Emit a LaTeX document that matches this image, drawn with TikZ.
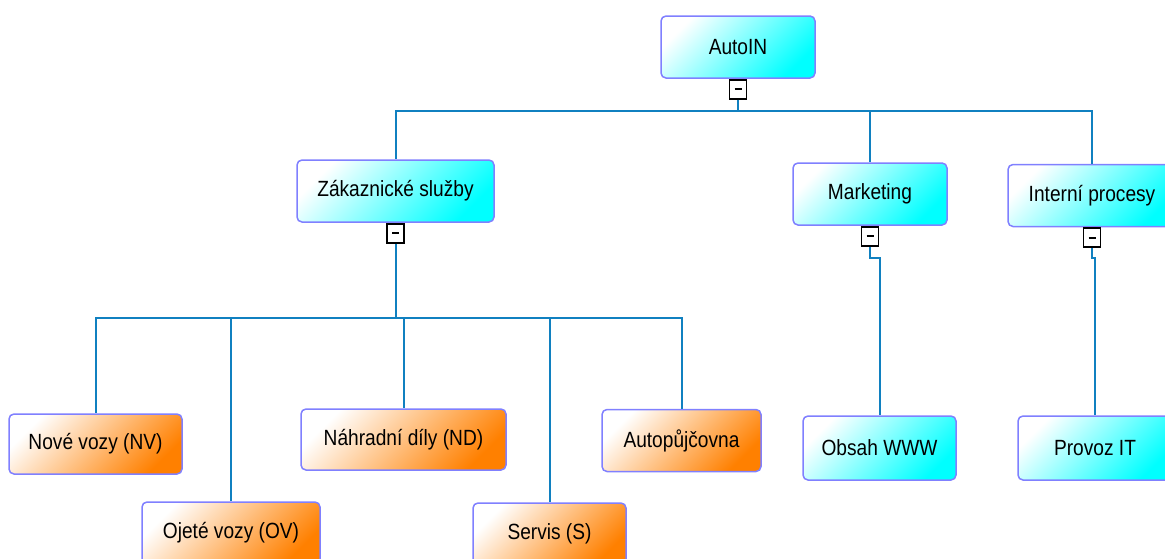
\documentclass[tikz,border=0pt]{standalone}
\usepackage{fontspec}
\setmainfont{Liberation Sans}[FakeStretch=0.87]
\usepackage{tikz}
\definecolor{boxline}{RGB}{128,128,255}
\definecolor{linkblue}{RGB}{16,128,192}
\definecolor{boxcyan}{RGB}{0,255,255}
\definecolor{boxorange}{RGB}{255,128,0}

\begin{document}
\begin{tikzpicture}[x=0.5pt, y={(0pt,-0.5pt)},
  font=\fontsize{11}{13}\selectfont,
  box/.style={draw=boxline, line width=0.75pt, rounded corners=2.5pt,
    minimum height=31pt, inner sep=0pt},
  bluebox/.style={box, top color=white, bottom color=boxcyan, shading angle=45},
  orangebox/.style={box, top color=white, bottom color=boxorange, shading angle=45},
  toggle/.style={draw=black, line width=0.9pt, fill=white, anchor=north,
    minimum width=8.5pt, minimum height=9.5pt, inner sep=0pt},
  link/.style={draw=linkblue, line width=1pt}]

  \clip (0,0) rectangle (1165,558);

  % top level
  \node[bluebox, minimum width=77pt] (root) at (738,47) {AutoIN};
  \node[toggle] (rootm) at (root.south) {\rule{3.5pt}{1.1pt}};

  \node[bluebox, minimum width=98.5pt] (zks) at (395.5,191) {Zákaznické služby};
  \node[toggle] (zksm) at (zks.south) {\rule{3.5pt}{1.1pt}};
  \node[bluebox, minimum width=77pt] (mkt) at (870,194) {Marketing};
  \node[toggle] (mktm) at (mkt.south) {\rule{3.5pt}{1.1pt}};
  \node[bluebox, minimum width=84pt] (ip) at (1092,195.5) {Interní procesy};
  \node[toggle] (ipm) at (ip.south) {\rule{3.5pt}{1.1pt}};

  % leaves
  \node[orangebox, minimum width=86.5pt, minimum height=30pt] (nv) at (95.5,444) {Nové vozy (NV)};
  \node[orangebox, minimum width=89pt] (ov) at (231,533) {Ojeté vozy (OV)};
  \node[orangebox, minimum width=102.5pt, minimum height=30.5pt] (nd) at (403.5,439.5) {Náhradní díly (ND)};
  \node[orangebox, minimum width=76.5pt] (sv) at (549.5,534) {Servis (S)};
  \node[orangebox, minimum width=79.5pt] (ap) at (681.5,440.5) {Autopůjčovna};
  \node[bluebox, minimum width=76.5pt, minimum height=32pt] (www) at (879.5,448) {Obsah WWW};
  \node[bluebox, minimum width=77pt, minimum height=32pt] (it) at (1095,448) {Provoz IT};

  \coordinate (topbus) at (738,111);
  \coordinate (leafbus) at (395.5,318);

  \draw[link] (rootm.south) -- (topbus);
  \draw[link] (topbus) -| (zks.north);
  \draw[link] (topbus) -| (mkt.north);
  \draw[link] (topbus) -| (ip.north);

  \draw[link] (zksm.south) -- (leafbus);
  \foreach \n in {nv,ov,nd,sv,ap}
    \draw[link] (leafbus) -| (\n.north);

  \draw[link] (mktm.south) -- ++(0,11) -| (www.north);
  \draw[link] (ipm.south) -- ++(0,10) -| (it.north);

\end{tikzpicture}
\end{document}
